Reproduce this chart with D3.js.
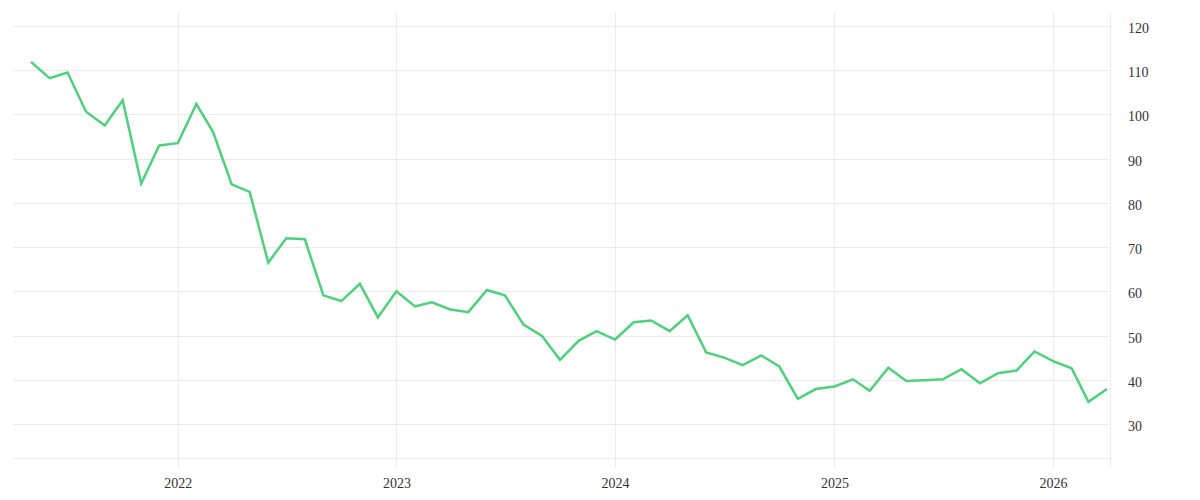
<!DOCTYPE html>
<html>
<head>
<meta charset="utf-8">
<script src="https://cdn.jsdelivr.net/npm/d3@7/dist/d3.min.js"></script>
<style>
  html, body { margin: 0; padding: 0; background: #fff; }
  svg { display: block; }
  text { font-family: "Liberation Serif", "DejaVu Serif", serif; fill: #333; font-size: 14px; }
</style>
</head>
<body>
<svg id="chart" width="1200" height="500"></svg>
<script>
// Monthly values, May 2021 – Apr 2026
const startMonth = [2021, 4]; // year, month index (0-based: 4 = May)
const values = [
  111.9, 108.2, 109.5, 100.6, 97.5, 103.2, 84.4, 93.0,
  93.5, 102.4, 96.0, 84.2, 82.5, 66.5, 72.0, 71.8, 59.1, 57.8, 61.7, 54.1,
  60.0, 56.6, 57.5, 55.9, 55.3, 60.3, 59.1, 52.5, 49.9, 44.5, 48.8, 51.0,
  49.1, 53.0, 53.4, 51.0, 54.6, 46.2, 45.0, 43.3, 45.5, 43.0, 35.7, 37.9,
  38.5, 40.1, 37.5, 42.7, 39.7, 39.9, 40.1, 42.4, 39.2, 41.5, 42.1, 46.4,
  44.2, 42.6, 35.0, 37.9
];
const yTicks = [30, 40, 50, 60, 70, 80, 90, 100, 110, 120];
const xTickYears = [2022, 2023, 2024, 2025, 2026];

const data = values.map((v, i) => ({ date: new Date(startMonth[0], startMonth[1] + i, 1), value: v }));

const pLeft = 13, pRight = 1110, pTop = 12, pBottom = 458;
const svg = d3.select("#chart");

const x = d3.scaleTime()
  .domain([new Date(2021, 3, 1), new Date(2026, 3, 6)])
  .range([pLeft, pRight]);
const y = d3.scaleLinear()
  .domain([22.31, 123.17])
  .range([pBottom, pTop]);

const grid = svg.append("g").attr("stroke", "#ebebeb").attr("stroke-width", 1);

// horizontal grid
grid.selectAll("line.h").data(yTicks).join("line")
  .attr("x1", pLeft).attr("x2", pRight)
  .attr("y1", d => Math.round(y(d)) + 0.5).attr("y2", d => Math.round(y(d)) + 0.5);
// bottom line
grid.append("line").attr("x1", pLeft).attr("x2", pRight)
  .attr("y1", pBottom + 0.5).attr("y2", pBottom + 0.5);

// vertical grid at years
const yearDates = xTickYears.map(yr => new Date(yr, 0, 1));
grid.selectAll("line.v").data(yearDates).join("line")
  .attr("x1", d => Math.round(x(d)) + 0.5).attr("x2", d => Math.round(x(d)) + 0.5)
  .attr("y1", pTop).attr("y2", pBottom + 10);
// right edge
grid.append("line").attr("x1", pRight + 0.5).attr("x2", pRight + 0.5)
  .attr("y1", pTop).attr("y2", pBottom + 10);

// y axis (right)
const yAxis = d3.axisRight(y).tickValues(yTicks).tickSize(0).tickPadding(0);
const gy = svg.append("g").attr("transform", `translate(${pRight + 18},2)`).call(yAxis);
gy.select(".domain").remove();
gy.selectAll("text").attr("font-size", 14).attr("font-family", null).attr("fill", "#333").attr("text-anchor", "start");

// x axis
const xAxis = d3.axisBottom(x).tickValues(yearDates).tickFormat(d3.timeFormat("%Y")).tickSize(0).tickPadding(0);
const gx = svg.append("g").attr("transform", `translate(0,${pBottom + 20})`).call(xAxis);
gx.select(".domain").remove();
gx.selectAll("text").attr("font-size", 14).attr("font-family", null).attr("fill", "#333");

// line
const line = d3.line().x(d => x(d.date)).y(d => y(d.value));
svg.append("path").datum(data)
  .attr("fill", "none")
  .attr("stroke", "#4cd27a")
  .attr("stroke-width", 2.5)
  .attr("stroke-linejoin", "miter")
  .attr("d", line);
</script>
</body>
</html>
